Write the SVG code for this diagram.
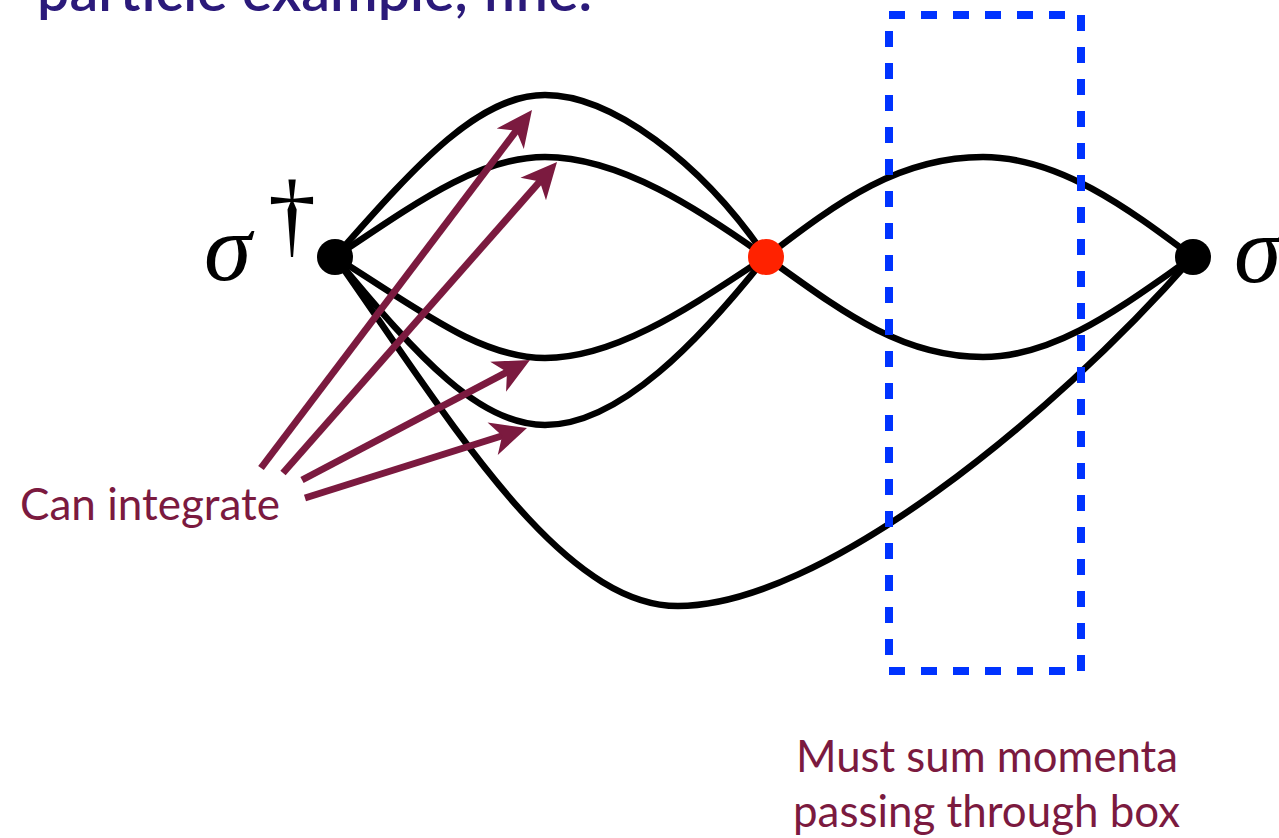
<svg xmlns="http://www.w3.org/2000/svg" width="1279" height="838" viewBox="0 0 1279 838">
<style>
.line{fill:none;stroke:#000;stroke-width:6.5;stroke-linecap:round}
.arrow{fill:none;stroke:#7B1A3F;stroke-width:7;stroke-linecap:butt}
.lbl{font-family:Lato,"Open Sans","Liberation Sans",sans-serif;fill:#7B1A3F;font-size:44px}
.sym{font-family:"Liberation Serif","DejaVu Serif",serif;font-size:96px;fill:#000}
.box{fill:none;stroke:#0033FF;stroke-width:8;stroke-dasharray:16 16}
</style>
<defs>
<marker id="ah" markerUnits="userSpaceOnUse" viewBox="-40 -20 40 40" markerWidth="40" markerHeight="40" refX="-20" refY="0" orient="auto">
<path d="M0,0 L-36,-17 L-26,0 L-36,17 Z" fill="#7B1A3F"/>
</marker>
</defs>
<rect width="1279" height="838" fill="#fff"/>
<text x="37" y="11" font-family="Lato,'Open Sans','Liberation Sans',sans-serif" font-size="56" font-weight="600" fill="#2B1A7A" textLength="555" lengthAdjust="spacingAndGlyphs">particle example, fine.</text>
<g id="connectors">
<path class="line" d="M335,257 C420,160 480,95 545,95 C610,95 700,160 766,257"/>
<path class="line" d="M335,257 C420,200 480,157 545,157 C620,157 700,210 766,257"/>
<path class="line" d="M335,257 C420,310 480,358 545,358 C620,358 700,300 766,257"/>
<path class="line" d="M335,257 C420,360 480,425 545,425 C620,425 700,340 766,257"/>
<path class="line" d="M335,257 C450,420 560,606 678,606 C820,606 1050,420 1193,257"/>
<path class="line" d="M766,257 C840,200 900,157 983,157 C1060,157 1130,210 1193,257"/>
<path class="line" d="M766,257 C840,310 900,357 983,357 C1060,357 1130,300 1193,257"/>
</g>
<g id="box"><rect class="box" x="889" y="15" width="192" height="656"/></g>
<g id="arrows">
<line class="arrow" x1="261" y1="468" x2="519.9" y2="125.9" marker-end="url(#ah)"/>
<line class="arrow" x1="283" y1="473" x2="543.8" y2="177" marker-end="url(#ah)"/>
<line class="arrow" x1="302" y1="480" x2="512.3" y2="369.3" marker-end="url(#ah)"/>
<line class="arrow" x1="305" y1="498" x2="507.9" y2="434" marker-end="url(#ah)"/>
</g>
<g id="node-left"><circle cx="335" cy="257" r="18" fill="#000"/>
<text class="sym" x="204" y="280" font-style="italic">σ</text><text class="sym" x="268" y="246" font-size="56">†</text></g>
<g id="node-mid"><circle cx="766" cy="257" r="18" fill="#FF2200"/></g>
<g id="node-right"><circle cx="1193" cy="257" r="18" fill="#000"/>
<text class="sym" x="1234" y="282" font-style="italic">σ</text></g>
<g id="label-integrate"><text class="lbl" x="20" y="520" textLength="260" lengthAdjust="spacingAndGlyphs">Can integrate</text></g>
<g id="label-box"><text class="lbl" x="796" y="772" textLength="382" lengthAdjust="spacingAndGlyphs">Must sum momenta</text>
<text class="lbl" x="793" y="827" textLength="387" lengthAdjust="spacingAndGlyphs">passing through box</text></g>
</svg>
